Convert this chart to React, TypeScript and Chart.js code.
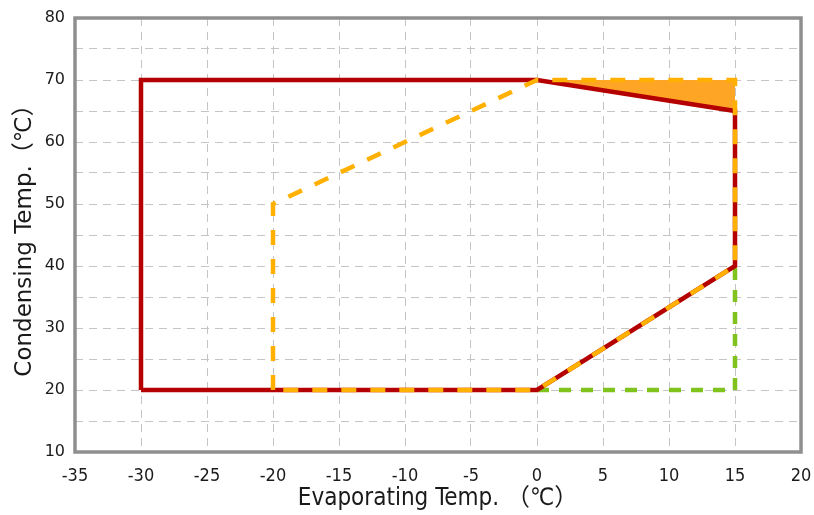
import React, { useEffect, useRef } from "react";
import { Chart, registerables } from "chart.js";

Chart.register(...registerables);

// Operating envelope data (Evaporating temp X, Condensing temp Y)
const redX = [-30, -30, 0, 15, 15, 0, -30];
const redY = [20, 70, 70, 65, 40, 20, 20];
const orangeX = [-20, -20, 0, 15, 15, 0, -20];
const orangeY = [20, 50, 70, 70, 40, 20, 20];
const greenX = [0, 15, 15];
const greenY = [20, 20, 40];
const fillX = [0, 15, 15, 0];
const fillY = [70, 70, 65, 70];

const xMin = -35;
const xMax = 20;
const yMin = 10;
const yMax = 80;
const tickStep = 5;
const yLabelStep = 10;

const xTitle = "Evaporating Temp. （℃）";
const yTitle = "Condensing Temp.（℃）";

const pts = (xs: number[], ys: number[]) => xs.map((x, i) => ({ x, y: ys[i] }));

const framePlugin = {
  id: "frame",
  afterDraw(chart: any) {
    const { ctx, chartArea } = chart;
    ctx.save();
    ctx.strokeStyle = "#8f8f8f";
    ctx.lineWidth = 3.5;
    ctx.setLineDash([]);
    ctx.strokeRect(chartArea.left, chartArea.top, chartArea.right - chartArea.left, chartArea.bottom - chartArea.top);
    ctx.restore();
  },
};

export default function App() {
  const ref = useRef<HTMLCanvasElement>(null);
  useEffect(() => {
    const canvas = ref.current;
    if (!canvas) return;
    const common = {
      showLine: true,
      pointRadius: 0,
      pointHoverRadius: 0,
      tension: 0,
      borderCapStyle: "butt",
      borderJoinStyle: "miter",
    };
    const chart = new Chart(canvas, {
      type: "scatter",
      data: {
        datasets: [
          {
            ...common,
            label: "orange",
            data: pts(orangeX, orangeY),
            borderColor: "#ffb000",
            borderWidth: 4.5,
            borderDash: [15, 14],
            fill: false,
            order: 0,
          },
          {
            ...common,
            label: "red",
            data: pts(redX, redY),
            borderColor: "#b40000",
            borderWidth: 4.5,
            fill: false,
            order: 1,
          },
          {
            ...common,
            label: "green",
            data: pts(greenX, greenY),
            borderColor: "#7fc31c",
            borderWidth: 4.5,
            borderDash: [12, 10],
            fill: false,
            order: 2,
          },
          {
            ...common,
            label: "fill",
            data: pts(fillX, fillY),
            borderColor: "rgba(0,0,0,0)",
            borderWidth: 0,
            backgroundColor: "#ffa526",
            fill: "shape",
            order: 3,
          },
        ],
      } as any,
      options: {
        responsive: false,
        animation: false,
        events: [],
        layout: { padding: { top: 18, right: 13, left: 0, bottom: 0 } },
        plugins: {
          legend: { display: false },
          tooltip: { enabled: false },
        },
        scales: {
          x: {
            type: "linear",
            min: xMin,
            max: xMax,
            afterFit: (s: any) => {
              s.height = 63;
              s.paddingLeft = 0;
              s.paddingRight = 0;
            },
            ticks: {
              stepSize: tickStep,
              padding: 14,
              color: "#1a1a1a",
              font: { family: '"DejaVu Sans Condensed", "DejaVu Sans", sans-serif', size: 18 },
            },
            grid: { color: "#c4c4c4", lineWidth: 1, drawTicks: false },
            border: { display: false, dash: [8, 6] },
            title: {
              display: true,
              text: xTitle,
              color: "#1a1a1a",
              font: { family: '"DejaVu Sans Condensed", "Noto Sans CJK SC", sans-serif', size: 24, weight: "normal" },
              padding: { top: 0, bottom: 2 },
            },
          },
          y: {
            type: "linear",
            min: yMin,
            max: yMax,
            afterFit: (s: any) => {
              s.width = 75;
              s.paddingTop = 0;
              s.paddingBottom = 0;
            },
            ticks: {
              stepSize: tickStep,
              padding: 10,
              color: "#1a1a1a",
              font: { family: '"DejaVu Sans", sans-serif', size: 16 },
              callback: (v: any) => (Number(v) % yLabelStep === 0 ? String(v) : ""),
            },
            grid: { color: "#c4c4c4", lineWidth: 1, drawTicks: false },
            border: { display: false, dash: [8, 6] },
            title: {
              display: true,
              text: yTitle,
              color: "#1a1a1a",
              font: { family: '"DejaVu Sans", "Noto Sans CJK SC", sans-serif', size: 23, weight: "normal" },
              padding: { top: 11, bottom: 0 },
            },
          },
        },
      } as any,
      plugins: [framePlugin],
    });
    return () => chart.destroy();
  }, []);
  return (
    <div style={{ position: "absolute", left: 0, top: 0, width: 814, height: 515, background: "#fff" }}>
      <canvas ref={ref} width={814} height={515} style={{ display: "block" }} />
    </div>
  );
}
